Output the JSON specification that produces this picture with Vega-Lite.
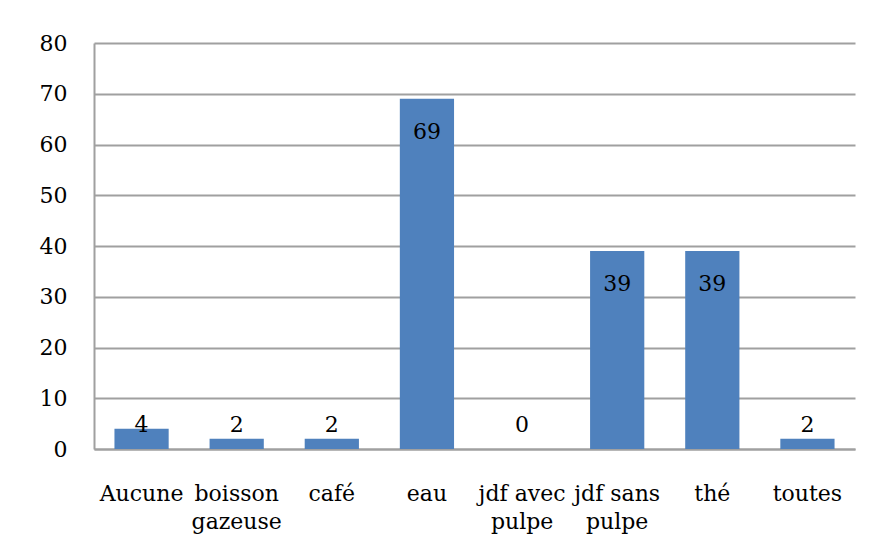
{
  "$schema": "https://vega.github.io/schema/vega-lite/v6.json",
  "width": 761,
  "height": 406,
  "autosize": "none",
  "padding": {"left": 94, "top": 43, "right": 16, "bottom": 109},
  "background": "white",
  "config": {
    "view": {"stroke": null},
    "font": "DejaVu Serif",
    "axis": {"labelFont": "DejaVu Serif", "labelColor": "#000000", "labelFontSize": 22},
    "text": {"font": "DejaVu Serif"}
  },
  "data": {
    "values": [
      {"boisson": "Aucune", "n": 4},
      {"boisson": "boisson gazeuse", "n": 2},
      {"boisson": "café", "n": 2},
      {"boisson": "eau", "n": 69},
      {"boisson": "jdf avec pulpe", "n": 0},
      {"boisson": "jdf sans pulpe", "n": 39},
      {"boisson": "thé", "n": 39},
      {"boisson": "toutes", "n": 2}
    ]
  },
  "encoding": {
    "x": {
      "field": "boisson",
      "type": "nominal",
      "sort": null,
      "scale": {"paddingInner": 0.43, "paddingOuter": 0.215},
      "axis": {
        "title": null,
        "labelAngle": 0,
        "ticks": false,
        "domain": true,
        "domainColor": "#a0a0a0",
        "domainWidth": 2,
        "labelPadding": 51,
        "labelBaseline": "alphabetic",
        "labelLineHeight": 28,
        "labelExpr": "indexof(datum.label, ' ') < 0 ? datum.label : [slice(datum.label, 0, lastindexof(datum.label, ' ')), slice(datum.label, lastindexof(datum.label, ' ') + 1)]"
      }
    }
  },
  "layer": [
    {
      "mark": {"type": "bar", "color": "#4F81BD"},
      "encoding": {
        "y": {
          "field": "n",
          "type": "quantitative",
          "scale": {"domain": [0, 80], "nice": false},
          "axis": {
            "title": null,
            "values": [0, 10, 20, 30, 40, 50, 60, 70, 80],
            "ticks": false,
            "grid": true,
            "gridColor": "#a0a0a0",
            "gridWidth": 2,
            "domain": true,
            "domainColor": "#a0a0a0",
            "domainWidth": 2,
            "labelPadding": 27,
            "labelBaseline": "middle"
          }
        }
      }
    },
    {
      "transform": [{"filter": "datum.n >= 10"}],
      "mark": {"type": "text", "baseline": "alphabetic", "dy": 40, "fontSize": 22, "font": "DejaVu Serif", "color": "#000000"},
      "encoding": {
        "y": {"field": "n", "type": "quantitative"},
        "text": {"field": "n", "type": "quantitative"}
      }
    },
    {
      "transform": [{"filter": "datum.n < 10"}],
      "mark": {"type": "text", "baseline": "alphabetic", "dy": -17, "fontSize": 22, "font": "DejaVu Serif", "color": "#000000"},
      "encoding": {
        "y": {"datum": 0, "type": "quantitative"},
        "text": {"field": "n", "type": "quantitative"}
      }
    }
  ]
}
